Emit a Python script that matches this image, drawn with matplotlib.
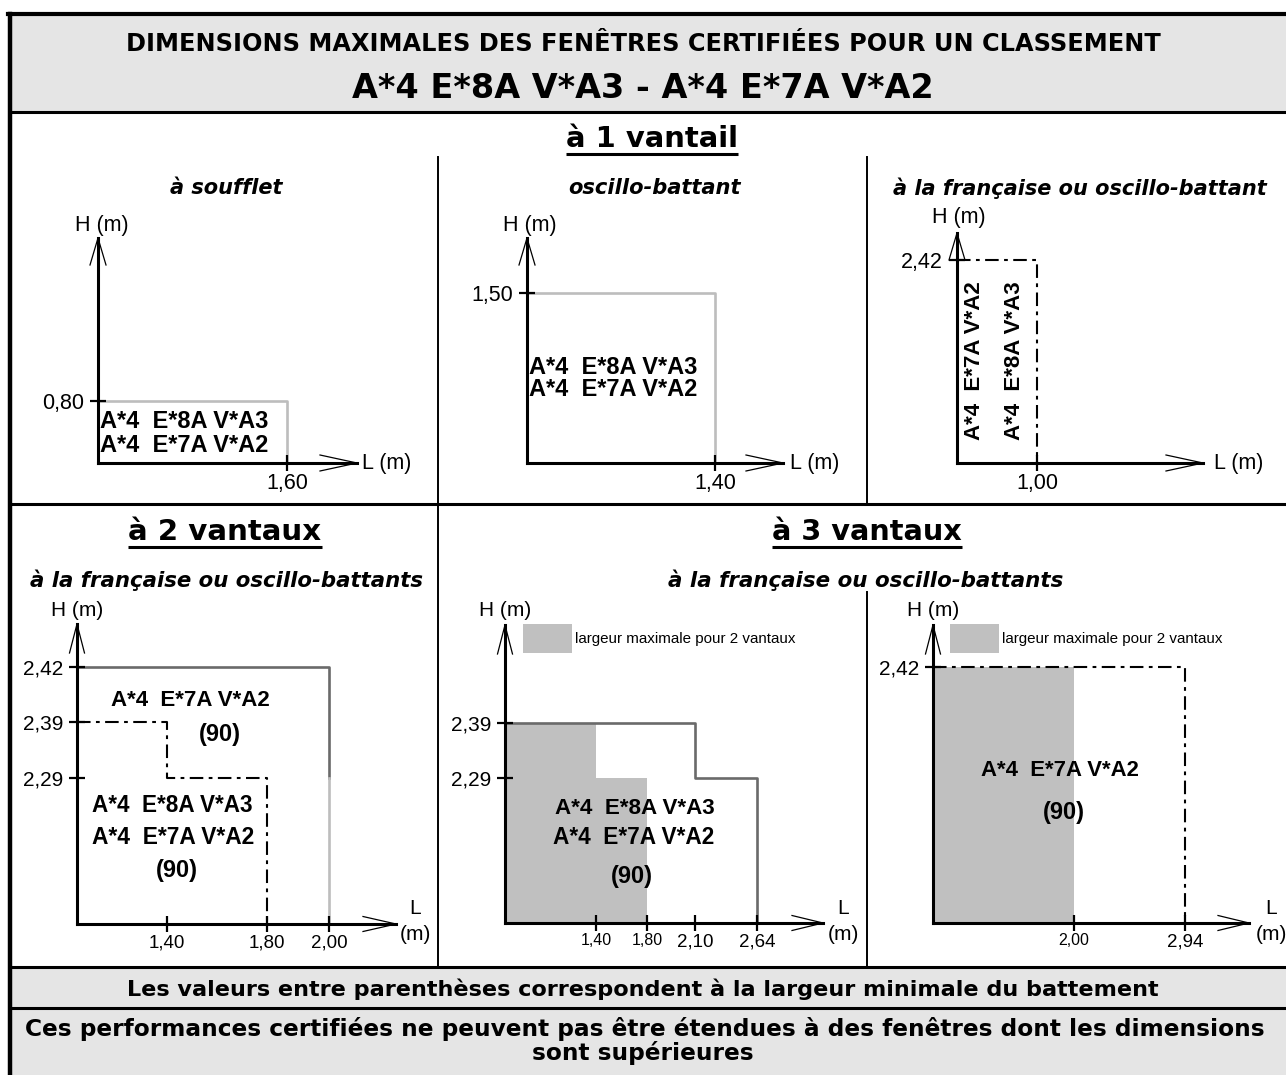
import numpy as np
import matplotlib
matplotlib.use("Agg")
import matplotlib.pyplot as plt
from matplotlib.patches import Rectangle

# ---- texts ----
title_1 = "DIMENSIONS MAXIMALES DES FENÊTRES CERTIFIÉES POUR UN CLASSEMENT"
title_2 = "A*4 E*8A V*A3 - A*4 E*7A V*A2"
class_e8 = "A*4  E*8A V*A3"
class_e7 = "A*4  E*7A V*A2"
battement = "(90)"
legend_txt = "largeur maximale pour 2 vantaux"
footer_1 = "Les valeurs entre parenthèses correspondent à la largeur minimale du battement"
footer_2 = "Ces performances certifiées ne peuvent pas être étendues à des fenêtres dont les dimensions"
footer_3 = "sont supérieures"

# ---- data (m) ----
# à 1 vantail : (L max, H max)
soufflet = (1.60, 0.80)
oscillo = (1.40, 1.50)
francaise = (1.00, 2.42)

# à 2 vantaux
v2_e7_L = [0.00, 2.00, 2.00, 2.00]
v2_e7_H = [2.42, 2.42, 2.29, 0.00]
v2_e8_L = [0.00, 1.40, 1.40, 1.80, 1.80]
v2_e8_H = [2.39, 2.39, 2.29, 2.29, 0.00]
v2_xticks = [1.40, 1.80, 2.00]
v2_yticks = [2.29, 2.39, 2.42]

# à 3 vantaux (gauche)
v3a_L = [0.00, 2.10, 2.10, 2.64, 2.64]
v3a_H = [2.39, 2.39, 2.29, 2.29, 0.00]
v3a_2v_L = [0.00, 0.00, 1.40, 1.40, 1.80, 1.80]
v3a_2v_H = [0.00, 2.39, 2.39, 2.29, 2.29, 0.00]
v3a_xticks = [1.40, 1.80, 2.10, 2.64]
v3a_yticks = [2.29, 2.39]

# à 3 vantaux (droite)
v3b_L = [0.00, 2.94, 2.94]
v3b_H = [2.42, 2.42, 0.00]
v3b_2v = (2.00, 2.42)
v3b_xticks = [2.00, 2.94]
v3b_yticks = [2.42]

W, H = 1286, 1075
ARIAL = "Liberation Sans"
BAND = "#e5e5e5"
FILL = "#c0c0c0"
LIGHT = "#bdbdbd"
DARK = "#6a6a6a"
DASHDOT = (0, (6.5, 2.6, 1.8, 2.6))

fig = plt.figure(figsize=(W / 100, H / 100), dpi=100)
bg = fig.add_axes([0, 0, 1, 1], zorder=-1)
fg = fig.add_axes([0, 0, 1, 1], zorder=5)
for a in (bg, fg):
    a.set_xlim(0, W)
    a.set_ylim(H, 0)
    a.axis("off")
    a.patch.set_visible(False)
r = fig.canvas.get_renderer()


def comma(v):
    return f"{v:.2f}".replace(".", ",")


def fit(t, width):
    w = t.get_window_extent(r).width
    t.set_fontsize(t.get_fontsize() * width / w)
    return t


def underline(t, y):
    bb = t.get_window_extent(r)
    fg.plot([bb.x0, bb.x1], [y, y], color="k", lw=2.2, solid_capstyle="butt")


# the drawings are not to scale: each tick value sits at a fixed offset
def schematic(vals, offs):
    v = np.r_[0.0, vals]
    o = np.r_[0.0, offs]
    k = (o[-1] - o[-2]) / (v[-1] - v[-2])

    def fwd(x):
        x = np.asarray(x, float)
        return np.where(x > v[-1], o[-1] + (x - v[-1]) * k, np.interp(x, v, o))

    def inv(y):
        y = np.asarray(y, float)
        return np.where(y > o[-1], v[-1] + (y - o[-1]) / k, np.interp(y, o, v))

    return fwd, inv


def panel(box, xt, xpos, yt, ypos, xfs, yfs, head):
    ox, oy, tx, ty = box
    ax = fig.add_axes([ox / W, 1 - oy / H, (tx - ox) / W, (oy - ty) / H], zorder=1)
    fx = schematic(xt, xpos)
    fy = schematic(yt, ypos)
    ax.set_xscale("function", functions=fx)
    ax.set_yscale("function", functions=fy)
    ax.set_xlim(0, float(fx[1](tx - ox)))
    ax.set_ylim(0, float(fy[1](oy - ty)))
    ax.patch.set_visible(False)
    ax.spines[["top", "right"]].set_visible(False)
    ax.spines[["left", "bottom"]].set_linewidth(2.2)
    ax.set_xticks(xt, [comma(v) for v in xt])
    ax.set_yticks(yt, [comma(v) for v in yt])
    ax.minorticks_off()
    ax.tick_params(direction="inout", length=12, width=1.6, colors="k")
    ax.tick_params(axis="x", pad=1.5)
    ax.tick_params(axis="y", pad=4)
    for lab, fs in zip(ax.get_xticklabels(), xfs):
        lab.set_fontsize(fs)
        lab.set_fontfamily(ARIAL)
    for lab, fs in zip(ax.get_yticklabels(), yfs):
        lab.set_fontsize(fs)
        lab.set_fontfamily(ARIAL)
    xl, yl, hw = head
    fg.plot([tx - xl, tx, tx - xl], [oy - hw, oy, oy + hw], color="k", lw=0.9)
    fg.plot([ox - hw, ox, ox + hw], [ty + yl, ty, ty + yl], color="k", lw=0.9)
    return ax


# ---- frame ----
bg.add_patch(Rectangle((10, 14), W - 10, 98, color=BAND, lw=0))
bg.add_patch(Rectangle((10, 967), W - 10, H - 967, color=BAND, lw=0))
bg.plot([8, W], [14, 14], color="k", lw=3)
bg.plot([10, 10], [14, H], color="k", lw=3.2)
for y in (112, 504, 967, 1008):
    bg.plot([10, W], [y, y], color="k", lw=2.2)
bg.plot([438, 438], [157, 967], color="k", lw=1.4)
bg.plot([867, 867], [157, 504], color="k", lw=1.4)
bg.plot([867, 867], [592, 967], color="k", lw=1.4)

# ---- headings ----
bold = dict(ha="center", va="center", fontweight="bold", color="k")
fit(fg.text(643, 44, title_1, fontsize=16, **bold), 1026)
fit(fg.text(643, 89, title_2, fontsize=20, **bold), 582)
underline(fit(fg.text(652, 139, "à 1 vantail", fontsize=19, **bold), 173), 154)
underline(fit(fg.text(225, 532, "à 2 vantaux", fontsize=19, **bold), 194), 547)
underline(fit(fg.text(867, 532, "à 3 vantaux", fontsize=19, **bold), 190), 547)
for x, y, s, w in [(226, 188, "à soufflet", 112),
                   (654, 188, "oscillo-battant", 172),
                   (1080, 188, "à la française ou oscillo-battant", 372),
                   (226, 580, "à la française ou oscillo-battants", 392),
                   (866, 580, "à la française ou oscillo-battants", 395)]:
    fit(fg.text(x, y, s, fontsize=13, style="italic", **bold), w)
f1 = fit(fg.text(643, 989, footer_1, fontsize=13, **bold), 1025)
fg.text(645, 1029, footer_2, fontsize=f1.get_fontsize() * 1.04, **bold)
fg.text(643, 1053, footer_3, fontsize=f1.get_fontsize() * 1.04, **bold)

# ---- à 1 vantail ----
axA = panel((98, 463, 357, 238), [soufflet[0]], [189], [soufflet[1]], [62],
            [15.5], [15.5], (37, 27, 8))
axA.plot([0, soufflet[0], soufflet[0]], [soufflet[1], soufflet[1], 0],
         color=LIGHT, lw=1.9, clip_on=False, zorder=1)

axB = panel((527, 463, 783, 238), [oscillo[0]], [188], [oscillo[1]], [170],
            [15.5], [15.5], (37, 27, 8))
axB.plot([0, oscillo[0], oscillo[0]], [oscillo[1], oscillo[1], 0],
         color=LIGHT, lw=1.9, clip_on=False, zorder=1)

axC = panel((957, 463, 1203, 233), [francaise[0]], [80], [francaise[1]], [203],
            [15.5], [15.5], (37, 27, 8))
axC.plot([0, francaise[0], francaise[0]], [francaise[1], francaise[1], 0],
         color="k", lw=1.5, ls=DASHDOT, clip_on=False, zorder=1)

# ---- à 2 vantaux ----
axD = panel((77, 924, 396, 624), v2_xticks, [90, 190, 252], v2_yticks, [146, 202, 257],
            [13.5, 13.5, 13.5], [15, 15, 15], (33, 29, 7.5))
axD.plot(v2_e7_L[:3], v2_e7_H[:3], color=DARK, lw=1.9, clip_on=False, zorder=1)
axD.plot(v2_e7_L[2:], v2_e7_H[2:], color=LIGHT, lw=1.9, clip_on=False, zorder=1)
axD.plot(v2_e8_L, v2_e8_H, color="k", lw=1.5, ls=DASHDOT, clip_on=False, zorder=1)

# ---- à 3 vantaux ----
axE = panel((505, 923, 823, 625), v3a_xticks, [91, 142, 190, 252], v3a_yticks, [145, 200],
            [11.5, 11.5, 13.5, 13.5], [15, 15], (31, 29, 7.5))
axE.fill(v3a_2v_L, v3a_2v_H, color=FILL, lw=0, clip_on=False, zorder=0.5)
axE.plot(v3a_L, v3a_H, color=DARK, lw=1.9, clip_on=False, zorder=1)

axF = panel((933, 923, 1249, 625), v3b_xticks, [141, 252], v3b_yticks, [256],
            [11.5, 13.5], [15], (31, 29, 7.5))
axF.fill([0, 0, v3b_2v[0], v3b_2v[0]], [0, v3b_2v[1], v3b_2v[1], 0],
         color=FILL, lw=0, clip_on=False, zorder=0.5)
axF.plot(v3b_L, v3b_H, color="k", lw=1.5, ls=DASHDOT, clip_on=False, zorder=1)

# ---- axis names ----
lab = dict(family=ARIAL, color="k", va="center")
for x, y in [(102, 225), (530, 225), (959, 217)]:
    fg.text(x, y, "H (m)", ha="center", fontsize=15.5, **lab)
for x in (362, 790, 1214):
    fg.text(x, 463, "L (m)", ha="left", fontsize=15.5, **lab)
for x in (77, 505, 933):
    fg.text(x, 610, "H (m)", ha="center", fontsize=15, **lab)
for x in (415, 843, 1271):
    fg.text(x, 908, "L", ha="center", fontsize=15, **lab)
    fg.text(x, 935, "(m)", ha="center", fontsize=15, **lab)

# ---- classification labels ----
cl = dict(family=ARIAL, fontweight="bold", color="k", va="center")
for x, y, s in [(100, 422, class_e8), (100, 445, class_e7),
                (529, 367, class_e8), (529, 389, class_e7)]:
    fg.text(x, y, s, ha="left", fontsize=17, **cl)
fg.text(974, 440, class_e7, ha="center", va="bottom", rotation=90, fontsize=16,
        family=ARIAL, fontweight="bold")
fg.text(1014, 440, class_e8, ha="center", va="bottom", rotation=90, fontsize=16,
        family=ARIAL, fontweight="bold")
for x, y, s, w in [(190, 700, class_e7, 159), (172, 806, class_e8, 161),
                   (173, 837, class_e7, 163), (635, 809, class_e8, 160),
                   (634, 838, class_e7, 162), (1060, 770, class_e7, 158)]:
    fit(fg.text(x, y, s, ha="center", fontsize=15, **cl), w)
for x, y in [(220, 735), (177, 870), (632, 877), (1064, 812)]:
    fg.text(x, y, battement, ha="center", fontsize=17, **cl)

# ---- legends ----
for x in (523, 950):
    fg.add_patch(Rectangle((x, 624), 49, 29, color=FILL, lw=0))
    fit(fg.text(x + 52, 639, legend_txt, ha="left", va="center", fontsize=10,
                family=["Liberation Sans Narrow", ARIAL], color="k"), 221)

fig.savefig("out.png", dpi=100)
